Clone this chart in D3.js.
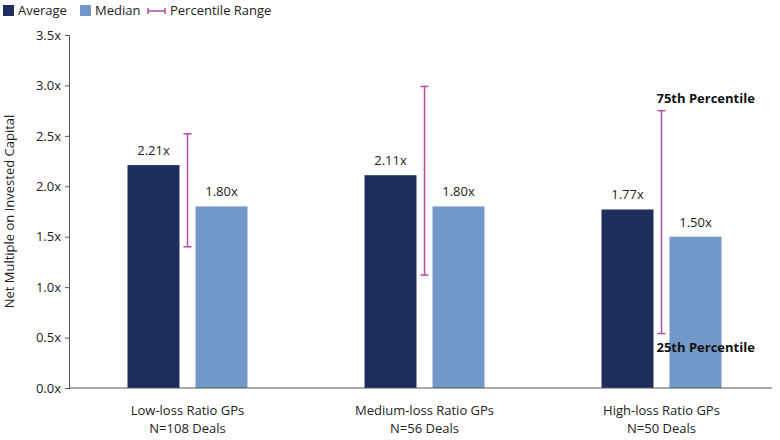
<!DOCTYPE html>
<html>
<head>
<meta charset="utf-8">
<script src="https://cdn.jsdelivr.net/npm/d3@7"></script>
<style>
  body { margin: 0; background: #fff; }
  text { font-family: 'Open Sans', sans-serif; }
</style>
</head>
<body>
<div id="chart"></div>
<script>
// chart data
const groups = ["Low-loss Ratio GPs", "Medium-loss Ratio GPs", "High-loss Ratio GPs"];
const dealCounts = ["N=108 Deals", "N=56 Deals", "N=50 Deals"];
const averages = [2.21, 2.11, 1.77];
const medians = [1.80, 1.80, 1.50];
const p25 = [1.40, 1.12, 0.54];
const p75 = [2.52, 2.99, 2.75];
const yTicks = [0, 0.5, 1.0, 1.5, 2.0, 2.5, 3.0, 3.5];

const width = 780, height = 440;
const margin = {top: 35, right: 0, bottom: 52, left: 69};

const svg = d3.select("#chart")
    .append("svg")
    .attr("width", width)
    .attr("height", height);

const g = svg.append("g")
    .attr("transform", `translate(${margin.left}, ${margin.top})`);

const innerW = width - margin.left - margin.right;
const innerH = height - margin.top - margin.bottom;

let x = d3.scaleBand()
    .domain(groups)
    .range([0, innerW]);

let y = d3.scaleLinear()
    .domain([0, 3.5])
    .range([innerH, 0]);

const colAvg = "#1f2d5c", colMed = "#7198c8", colRange = "#b24c9c";
const barW = 52, gap = 8;

// y axis
g.append("g")
    .call(d3.axisLeft(y).tickValues(yTicks).tickFormat(d => d.toFixed(1) + "x").tickSize(4).tickPadding(4))
    .call(a => a.select(".domain").attr("stroke", "#555"))
    .call(a => a.selectAll(".tick line").attr("stroke", "#555"))
    .call(a => a.selectAll("text").style("font-size", "13px").attr("fill", "#222"));

// y axis title
g.append("text")
    .attr("transform", `translate(-55, ${innerH / 2}) rotate(-90)`)
    .style("text-anchor", "middle")
    .style("font-size", "13px")
    .attr("fill", "#222")
    .text("Net Multiple on Invested Capital");

// average bars
g.selectAll(".avg").data(averages).enter()
    .append("rect")
    .attr("class", "avg")
    .attr("x", (d, i) => x(groups[i]) + x.bandwidth() / 2 - gap - barW)
    .attr("y", d => y(d))
    .attr("width", barW)
    .attr("height", d => innerH - y(d))
    .attr("fill", colAvg);

// median bars
g.selectAll(".med").data(medians).enter()
    .append("rect")
    .attr("class", "med")
    .attr("x", (d, i) => x(groups[i]) + x.bandwidth() / 2 + gap)
    .attr("y", d => y(d))
    .attr("width", barW)
    .attr("height", d => innerH - y(d))
    .attr("fill", colMed);

// value labels
const labelStyle = sel => sel.style("text-anchor", "middle").style("font-size", "13px").attr("fill", "#222");
g.selectAll(".avgLbl").data(averages).enter()
    .append("text")
    .attr("x", (d, i) => x(groups[i]) + x.bandwidth() / 2 - gap - barW / 2)
    .attr("y", d => y(d) - 10)
    .text(d => d.toFixed(2) + "x")
    .call(labelStyle);
g.selectAll(".medLbl").data(medians).enter()
    .append("text")
    .attr("x", (d, i) => x(groups[i]) + x.bandwidth() / 2 + gap + barW / 2)
    .attr("y", d => y(d) - 10)
    .text(d => d.toFixed(2) + "x")
    .call(labelStyle);

// percentile range whiskers
groups.forEach((grp, i) => {
    const cx = x(grp) + x.bandwidth() / 2;
    const w = g.append("g").attr("stroke", colRange).attr("stroke-width", 1.5);
    w.append("line").attr("x1", cx).attr("x2", cx).attr("y1", y(p75[i])).attr("y2", y(p25[i]));
    w.append("line").attr("x1", cx - 4).attr("x2", cx + 4).attr("y1", y(p75[i])).attr("y2", y(p75[i]));
    w.append("line").attr("x1", cx - 4).attr("x2", cx + 4).attr("y1", y(p25[i])).attr("y2", y(p25[i]));
});

// x axis baseline
g.append("line")
    .attr("x1", 0).attr("x2", innerW - 8)
    .attr("y1", innerH).attr("y2", innerH)
    .attr("stroke", "#555").attr("stroke-width", 1.2);

// category labels
groups.forEach((grp, i) => {
    const t = g.append("text")
        .attr("x", x(grp) + x.bandwidth() / 2)
        .attr("y", innerH + 27)
        .style("text-anchor", "middle")
        .style("font-size", "13px")
        .attr("fill", "#222");
    t.append("tspan").text(grp);
    t.append("tspan").attr("x", x(grp) + x.bandwidth() / 2).attr("dy", 18).text(dealCounts[i]);
});

// percentile annotations on last group
const lastX = x(groups[2]) + x.bandwidth() / 2 - 5;
g.append("text")
    .attr("x", lastX).attr("y", y(p75[2]) - 8)
    .style("font-size", "13px").style("font-weight", "bold").attr("fill", "#111")
    .text("75th Percentile");
g.append("text")
    .attr("x", lastX).attr("y", y(p25[2]) + 18)
    .style("font-size", "13px").style("font-weight", "bold").attr("fill", "#111")
    .text("25th Percentile");

// legend
const legend = svg.append("g").attr("transform", "translate(3, 4)");
legend.append("rect").attr("x", 0).attr("y", 1).attr("width", 11).attr("height", 11).attr("fill", colAvg);
legend.append("text").attr("x", 15).attr("y", 11).style("font-size", "13px").attr("fill", "#222").text("Average");
legend.append("rect").attr("x", 77).attr("y", 1).attr("width", 11).attr("height", 11).attr("fill", colMed);
legend.append("text").attr("x", 92).attr("y", 11).style("font-size", "13px").attr("fill", "#222").text("Median");
const lg = legend.append("g").attr("stroke", colRange).attr("stroke-width", 1.5);
lg.append("line").attr("x1", 145).attr("x2", 162).attr("y1", 7).attr("y2", 7);
lg.append("line").attr("x1", 145).attr("x2", 145).attr("y1", 4).attr("y2", 10);
lg.append("line").attr("x1", 162).attr("x2", 162).attr("y1", 4).attr("y2", 10);
legend.append("text").attr("x", 167).attr("y", 11).style("font-size", "13px").attr("fill", "#222").text("Percentile Range");
</script>
</body>
</html>
